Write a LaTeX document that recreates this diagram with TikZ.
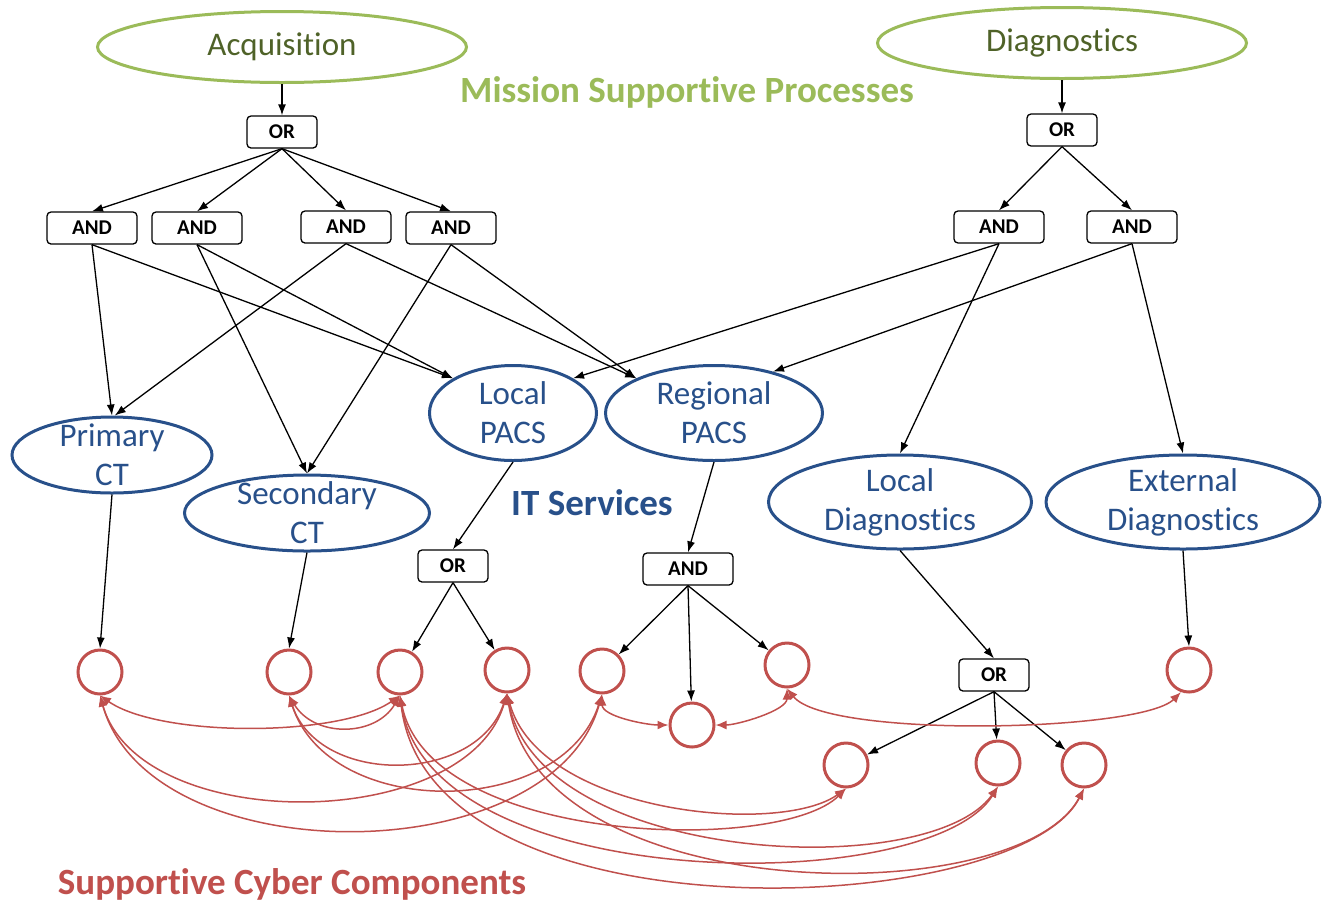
\documentclass[tikz,border=0pt]{standalone}
\usepackage{fontspec}
\setmainfont[Ligatures=NoCommon]{Carlito}
\usetikzlibrary{arrows.meta,shapes.geometric}
\definecolor{mgreen}{HTML}{9BBB59}
\definecolor{mdgreen}{HTML}{4F6228}
\definecolor{itblue}{HTML}{28508A}
\definecolor{cred}{HTML}{C0504D}
\tikzset{
	process/.style={ellipse,draw=mgreen,line width=3pt,text=mdgreen,inner sep=0pt,
		minimum width=369pt,minimum height=71pt,font=\fontsize{33}{39}\selectfont},
	itserv/.style={ellipse,draw=itblue,line width=3pt,inner sep=0pt},
	ittext/.style={text=itblue,align=center,font=\fontsize{33}{39}\selectfont},
	gate/.style={draw,rounded corners=4pt,line width=1.3pt,inner sep=0pt,
		minimum width=70pt,minimum height=32pt,font=\bfseries\fontsize{21}{21}\selectfont},
	andgate/.style={gate,minimum width=90pt},
	comp/.style={circle,draw=cred,line width=3pt,minimum size=44pt,inner sep=0pt},
	cyberlink/.style={{Latex[length=11pt,width=9pt]}-{Latex[length=11pt,width=9pt]},draw=cred,line width=1.5pt},
	layertitle/.style={font=\bfseries\fontsize{37}{37}\selectfont}
}
\begin{document}
\begin{tikzpicture}[x=1pt,y=-1pt,>={Latex[length=11pt,width=8pt]},line width=1.3pt]
	\useasboundingbox (0,0) rectangle (1324,906);
	% mission supportive processes
	\node[process] (acq) at (282,47) {Acquisition};
	\node[process] (diag) at (1062,43) {Diagnostics};
	\node[layertitle,text=mgreen] (msp) at (687,92) {Mission Supportive Processes};
	\node[gate] (or1) at (282,132) {OR};
	\node[gate] (or2) at (1062,130) {OR};
	\node[andgate] (a1) at (92,228) {AND};
	\node[andgate] (a2) at (197,228) {AND};
	\node[andgate] (a3) at (346,227) {AND};
	\node[andgate] (a4) at (451,228) {AND};
	\node[andgate] (a5) at (999,227) {AND};
	\node[andgate] (a6) at (1132,227) {AND};
	% IT services
	\node[itserv,minimum width=200pt,minimum height=76pt,label={[ittext]center:{Primary\\CT}}] (pct) at (112,455) {};
	\node[itserv,minimum width=245pt,minimum height=76pt,label={[ittext]center:{Secondary\\CT}}] (sct) at (307,513) {};
	\node[itserv,minimum width=167pt,minimum height=95pt,label={[ittext]center:{Local\\PACS}}] (lpacs) at (513,413) {};
	\node[itserv,minimum width=217pt,minimum height=95pt,label={[ittext]center:{Regional\\PACS}}] (rpacs) at (714,413) {};
	\node[itserv,minimum width=263pt,minimum height=94pt,label={[ittext]center:{Local\\Diagnostics}}] (ldiag) at (900,502) {};
	\node[itserv,minimum width=274pt,minimum height=94pt,label={[ittext]center:{External\\Diagnostics}}] (xdiag) at (1183,502) {};
	\node[layertitle,text=itblue] (its) at (592,503) {IT Services};
	\node[gate] (or3) at (453,566) {OR};
	\node[andgate] (a7) at (688,569) {AND};
	\node[gate] (or4) at (994,675) {OR};
	% cyber components
	\node[comp] (c1) at (100,672) {};
	\node[comp] (c2) at (289,672) {};
	\node[comp] (c3) at (400,672) {};
	\node[comp] (c4) at (507,670) {};
	\node[comp] (c5) at (602,671) {};
	\node[comp] (c6) at (692,725) {};
	\node[comp] (c7) at (787,665) {};
	\node[comp] (c8) at (846,765) {};
	\node[comp] (c9) at (998,763) {};
	\node[comp] (c10) at (1084,765) {};
	\node[comp] (c11) at (1189,670) {};
	\node[layertitle,text=cred] (scc) at (292,884) {Supportive Cyber Components};
	% dependencies
	\draw[->] (acq) -- (or1);
	\draw[->] (diag) -- (or2);
	\foreach \g in {a1,a2,a3,a4} \draw[->] (or1.south) -- (\g.north);
	\foreach \g in {a5,a6} \draw[->] (or2.south) -- (\g.north);
	\draw[->] (a1.south) -- (pct.north);
	\draw[->] (a1.south) -- (lpacs.150);
	\draw[->] (a2.south) -- (sct.north);
	\draw[->] (a2.south) -- (lpacs.150);
	\draw[->] (a3.south) -- (pct.86);
	\draw[->] (a3.south) -- (rpacs.156);
	\draw[->] (a4.south) -- (sct.north);
	\draw[->] (a4.south) -- (rpacs.156);
	\draw[->] (a5.south) -- (lpacs.30);
	\draw[->] (a5.south) -- (ldiag.north);
	\draw[->] (a6.south) -- (rpacs.35);
	\draw[->] (a6.south) -- (xdiag.north);
	\draw[->] (pct.south) -- (c1.north);
	\draw[->] (sct.south) -- (c2.north);
	\draw[->] (lpacs.south) -- (or3.north);
	\draw[->] (rpacs.south) -- (a7.north);
	\draw[->] (ldiag.south) -- (or4.north);
	\draw[->] (xdiag.south) -- (c11.north);
	\foreach \c in {c3,c4} \draw[->] (or3.south) -- (\c);
	\foreach \c in {c5,c6,c7} \draw[->] (a7.south) -- (\c);
	\foreach \c in {c8,c9,c10} \draw[->] (or4.south) -- (\c);
	% interdependencies
	\draw[cyberlink] (c1.south) .. controls +(60,42) and +(-60,42) .. (c3.south);
	\draw[cyberlink] (c1.south) .. controls +(40,140) and +(-40,140) .. (c4.south);
	\draw[cyberlink] (c1.south) .. controls +(50,179) and +(-50,179) .. (c5.south);
	\draw[cyberlink] (c2.south) .. controls +(25,42) and +(-25,42) .. (c3.south);
	\draw[cyberlink] (c2.south) .. controls +(30,91) and +(-30,91) .. (c4.south);
	\draw[cyberlink] (c2.south) .. controls +(40,125) and +(-40,125) .. (c5.south);
	\draw[cyberlink] (c4.south) .. controls +(33,120) and +(-66,48) .. (c8.south);
	\draw[cyberlink] (c3.south) .. controls +(30,150) and +(-66,66) .. (c8.south);
	\draw[cyberlink] (c4.south) .. controls +(33,170) and +(-69,97) .. (c9.south);
	\draw[cyberlink] (c3.south) .. controls +(30,200) and +(-69,112) .. (c9.south);
	\draw[cyberlink] (c4.south) .. controls +(33,215) and +(-65,124) .. (c10.south);
	\draw[cyberlink] (c3.south) .. controls +(30,250) and +(-65,130) .. (c10.south);
	\draw[cyberlink] (c5.south) .. controls +(0,22) and +(-22,0) .. (c6.west);
	\draw[cyberlink] (c6.east) .. controls +(22,0) and +(0,22) .. (c7.south);
	\draw[cyberlink] (c7.south) .. controls +(40,50) and +(-40,40) .. (c11.250);
\end{tikzpicture}
\end{document}
